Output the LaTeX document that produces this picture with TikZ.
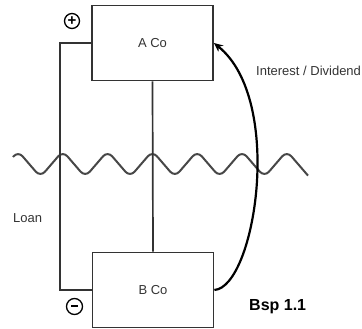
\documentclass[tikz,border=0pt]{standalone}
\usepackage{fontspec}
\setmainfont{Liberation Sans}
\usetikzlibrary{arrows.meta}
\definecolor{ink}{HTML}{333333}
\begin{document}
\begin{tikzpicture}[x=1pt,y=-1pt,
  cobox/.style={draw=ink,line width=1.8pt,minimum width=121pt,minimum height=75pt,inner sep=0pt,font=\fontsize{13}{15}\selectfont,text=ink},
  conn/.style={draw=ink,line width=1.7pt},
  sign/.style={circle,draw=black,line width=1.3pt,minimum size=15pt,inner sep=0pt,font=\bfseries\fontsize{15}{15}\selectfont},
  lbl/.style={font=\fontsize{13}{15}\selectfont,text=ink,inner sep=0pt}]
\useasboundingbox (0,0) rectangle (362,329);
\node[cobox] (A) at (152.5,43) {A Co};
\node[cobox] (B) at (153,290) {B Co};
% wave
\draw[ink!90,line width=2pt,rounded corners=7pt] (13,157) -- (18,151)
  -- (40.4,177) -- (62.8,151) -- (85.2,177) -- (107.6,151) -- (130,177)
  -- (152.4,151) -- (174.8,177) -- (197.2,151) -- (219.6,177) -- (242,151)
  -- (264.4,177) -- (286.8,151) -- (308,175.6);
\draw[conn] (A.south) -- (B.north);
\draw[conn] (A.west) -- ++(-31,0) coordinate (lt) |- (B.west);
\draw[black,line width=2.2pt,-{Stealth[length=9pt,width=8pt]}] (B.east) .. controls (255,287) and (285,100) .. (A.east);
\node[sign] (plus) at (72,21) {+};
\node[sign,minimum height=16pt] (minus) at (74.5,306.5) {\raisebox{1pt}{\rule{7pt}{1.6pt}}};
\node[lbl,anchor=west] (int) at (256,71) {Interest / Dividend};
\node[lbl,anchor=west] (loan) at (13,218) {Loan};
\node[lbl,anchor=west,text=black,font=\bfseries\fontsize{16}{18}\selectfont] (bsp) at (249,307) {Bsp 1.1};
\end{tikzpicture}
\end{document}
